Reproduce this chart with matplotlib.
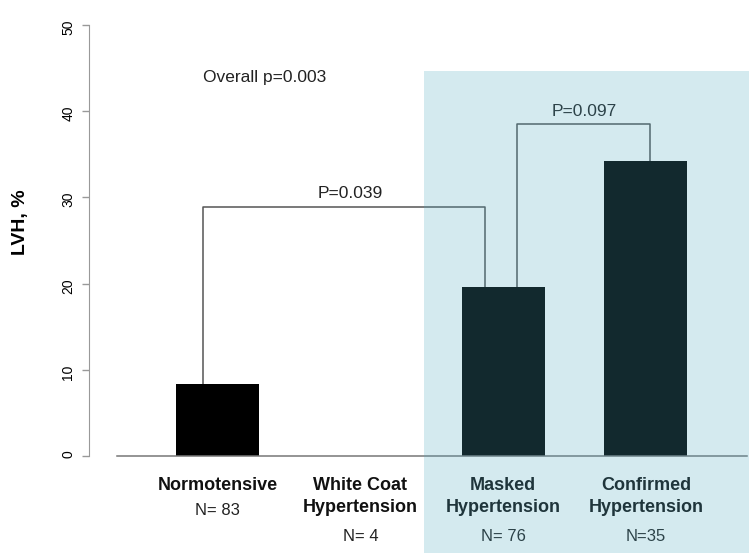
import matplotlib
matplotlib.use("Agg")
import matplotlib.pyplot as plt
from matplotlib.patches import Rectangle

plt.rcParams['font.family'] = ['Liberation Sans', 'DejaVu Sans']

# data
groups = ['Normotensive', 'White Coat\nHypertension', 'Masked\nHypertension', 'Confirmed\nHypertension']
n_labels = ['N= 83', 'N= 4', 'N= 76', 'N=35']
lvh = [8.4, 0.0, 19.6, 34.2]
yticks = [0, 10, 20, 30, 40, 50]

# brackets: (left x, right x, top y, text, text x, text y)
brackets = [
    (-0.10, 1.87, 28.9, 'P=0.039', 0.93, 30.4),
    (2.10, 3.03, 38.5, 'P=0.097', 2.57, 40.0),
]

fig = plt.figure(figsize=(7.49, 5.53), dpi=100)
ax = fig.add_axes([117 / 749, 97 / 553, 630 / 749, 431 / 553])

x = range(len(groups))
ax.bar(x, lvh, width=0.58, color='black', zorder=2)

for x0, x1, top, txt, tx, ty in brackets:
    y0 = lvh[round(x0)]
    y1 = lvh[round(x1)]
    ax.plot([x0, x0, x1, x1], [y0, top, top, y1], color='#555555', lw=1.1, zorder=1)
    ax.text(tx, ty, txt, ha='center', va='center', fontsize=12.5, color='#222222')

ax.text(-0.10, 43.9, 'Overall p=0.003', ha='left', va='center', fontsize=12.5, color='#222222')

# category labels under the bars
for i, (g, n) in enumerate(zip(groups, n_labels)):
    lines = g.split('\n')
    yb = -4.0
    for ln in lines:
        ax.text(i, yb, ln, ha='center', va='baseline', fontsize=13,
                fontweight='bold', color='#111111', clip_on=False)
        yb -= 2.55
    ax.text(i, yb - 0.35 if len(lines) == 1 else yb - 0.75, n, ha='center', va='baseline',
            fontsize=12, color='#222222', clip_on=False)

ax.set_xlim(-0.704, 3.708)
ax.set_ylim(0, 50)
ax.set_xticks([])
ax.set_yticks(yticks)
ax.set_yticklabels([str(t) for t in yticks], fontsize=12, color='#333333')
ax.tick_params(axis='y', length=5, width=1, color='#999999', pad=5, labelrotation=90)
for lab in ax.get_yticklabels():
    lab.set_va('center')
for s in ['top', 'right']:
    ax.spines[s].set_visible(False)
ax.spines['left'].set_position(('outward', 20))
ax.spines['left'].set_color('#999999')
ax.spines['bottom'].set_color('#777777')
ax.spines['bottom'].set_linewidth(1.1)
ax.patch.set_visible(False)

fig.text(20 / 749, 1 - 222 / 553, 'LVH, %', rotation=90, ha='center', va='center',
         fontsize=14, fontweight='bold')

# translucent highlight over the hypertension groups
fig.patches.append(Rectangle((424 / 749, 0), 325 / 749, 482 / 553, transform=fig.transFigure,
                             facecolor='#4ea9c1', alpha=0.243, edgecolor='none', zorder=10))

fig.savefig('out.png', dpi=100)
